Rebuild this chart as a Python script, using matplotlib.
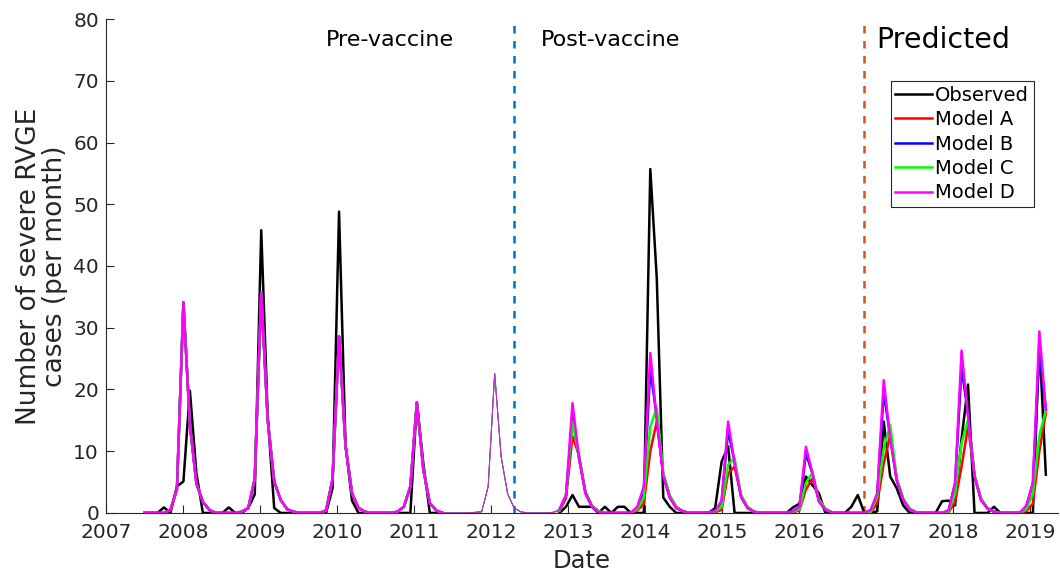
# 轮状病毒重症病例：观测值与模型预测
import numpy as np
import matplotlib as mpl
mpl.use('Agg')
import matplotlib.pyplot as plt

mpl.rcParams['axes.unicode_minus'] = False

nan = np.nan

# 观测值（每月病例数），2011年中至2012年底缺失
observed = [0, 0, 0, 0.9, 0, 4.3, 5.1, 19.8, 6.5, 0, 0, 0,
            0, 0.9, 0, 0, 0.8, 3.0, 45.8, 15.7, 0.8, 0, 0, 0,
            0, 0, 0, 0, 0, 4, 48.8, 11, 2, 0, 0, 0,
            0, 0, 0, 0, 0, 0, 17.9, 8, 0, 0, 0, nan,
            nan, nan, nan, nan, nan, nan, nan, nan, nan, nan, nan, nan,
            nan, nan, nan, nan, 0, 1, 2.9, 1, 1, 1, 0, 1,
            0, 1, 1, 0, 0, 0, 55.7, 38, 2.5, 1, 0, 0,
            0, 0, 0, 0, 0.8, 8.3, 10.8, 0, 0, 0, 0, 0,
            0, 0, 0, 0, 0.9, 1.5, 5.9, 4.5, 3.2, 0, 0, 0,
            0, 1.0, 2.9, 0, 0, 0.3, 14.8, 5.9, 4.0, 1.2, 0, 0,
            0, 0, 0, 1.9, 2.0, 1.2, 12, 20.8, 0, 0, 0, 1.0,
            0, 0, 0, 0, 0, 0, 27.9, 6.2]

# 疫苗前阶段四个模型基本一致
model_pre = [0, 0, 0, 0, 0.5, 3.8, 34.1, 14.3, 4.8, 1.8, 0.5, 0,
             0, 0, 0, 0.2, 0.8, 5.5, 35.7, 15.1, 5.1, 2.1, 0.6, 0.2,
             0, 0, 0, 0, 0.4, 5.5, 28.6, 10.9, 3.2, 0.8, 0.2, 0,
             0, 0, 0, 0.2, 1.0, 4.3, 17.9, 7.0, 1.6, 0.4, 0, 0,
             0, 0, 0, 0.1, 0.2, 4.3, 22.6, 9.1, 3.1, 0.8, 0.2, 0,
             0, 0, 0, 0.1]

# 疫苗后阶段（2012年11月起）
post_a = [0.3, 2.4, 12.4, 9.4, 3.4, 1.2, 0.3, 0, 0, 0, 0, 0,
          0.4, 1.5, 10.0, 14.8, 6.3, 2.8, 1.0, 0.3, 0, 0, 0, 0.1,
          0.1, 0.5, 6.4, 7.5, 2.8, 1.0, 0.2, 0, 0, 0, 0, 0,
          0.1, 0.4, 3.8, 5.6, 2.2, 0.7, 0.1, 0, 0, 0, 0, 0,
          0.1, 1.6, 8.0, 12.6, 5.5, 2.3, 0.7, 0.1, 0, 0, 0, 0,
          0.1, 1.8, 7.5, 14.0, 6.0, 2.3, 0.8, 0.2, 0, 0, 0, 0,
          0.3, 1.5, 10.0, 16.2]
post_b = [0.5, 2.8, 15.6, 8.9, 3.2, 1.0, 0.2, 0, 0, 0, 0, 0,
          0.9, 3.6, 23.3, 15.5, 6.0, 2.5, 0.8, 0.3, 0, 0, 0, 0.1,
          0.3, 1.8, 13.4, 8.2, 2.6, 0.8, 0.2, 0, 0, 0, 0, 0,
          0.3, 0.9, 9.7, 6.4, 1.9, 0.5, 0.1, 0, 0, 0, 0, 0,
          0.4, 3.0, 19.6, 12.3, 5.3, 2.1, 0.5, 0.1, 0, 0, 0, 0,
          0.4, 4.8, 23.6, 16.0, 5.9, 2.1, 0.7, 0.2, 0, 0, 0, 0,
          1.1, 4.8, 26.4, 16.8]
post_c = [0.4, 2.9, 14.8, 9.1, 3.3, 1.1, 0.3, 0, 0, 0, 0, 0,
          0.6, 2.5, 14.0, 17.0, 6.5, 2.8, 1.0, 0.3, 0, 0, 0, 0.1,
          0.2, 1.0, 7.8, 8.9, 2.9, 1.0, 0.2, 0, 0, 0, 0, 0,
          0.2, 0.6, 4.9, 6.5, 2.2, 0.7, 0.1, 0, 0, 0, 0, 0,
          0.2, 2.6, 10.5, 14.3, 5.6, 2.3, 0.7, 0.1, 0, 0, 0, 0,
          0.2, 3.1, 11.3, 15.1, 6.2, 2.3, 0.8, 0.2, 0, 0, 0, 0,
          0.6, 3.1, 12.5, 16.7]
post_d = [0.6, 2.9, 17.8, 8.9, 3.2, 1.0, 0.2, 0, 0, 0, 0, 0,
          1.0, 4.3, 25.9, 15.0, 6.0, 2.5, 0.8, 0.3, 0, 0, 0, 0.1,
          0.3, 2.0, 14.8, 8.0, 2.6, 0.8, 0.2, 0, 0, 0, 0, 0,
          0.3, 1.0, 10.7, 6.5, 1.9, 0.5, 0.1, 0, 0, 0, 0, 0,
          0.5, 3.2, 21.5, 12.0, 5.3, 2.1, 0.5, 0.1, 0, 0, 0, 0,
          0.4, 4.8, 26.3, 15.6, 5.9, 2.1, 0.7, 0.2, 0, 0, 0, 0,
          1.2, 4.8, 29.4, 16.7]

models = {'Model A': (model_pre + post_a, '#ff0000'),
          'Model B': (model_pre + post_b, '#0000ff'),
          'Model C': (model_pre + post_c, '#00ff00'),
          'Model D': (model_pre + post_d, '#ff00ff')}

# 时间轴：从2007年7月起每月一个点
t0 = 2007.5
step = 0.0842
n = len(observed)
t = t0 + np.arange(n) * step
obs = np.array(observed, dtype=float)
gap = np.isnan(obs)

vacc_idx = 57      # 疫苗引入
pred_idx = 111     # 预测开始

fig = plt.figure(figsize=(10.6, 5.77), dpi=100)
ax = fig.add_axes([0.1, 0.111, 0.898, 0.856])

ax.plot(t, obs, color='black', lw=1.8, label='Observed', zorder=3)
for name, (vals, col) in models.items():
    v = np.array(vals, dtype=float)
    ax.plot(t, v, color=col, lw=0.7, alpha=0.8, zorder=2)   # 缺失期细线
    thick = v.copy()
    thick[gap] = nan
    ax.plot(t, thick, color=col, lw=1.8, label=name, zorder=4)

ax.axvline(t[vacc_idx], color='#0072BD', ls=(0, (3, 3)), lw=1.8, zorder=1)
ax.axvline(t[pred_idx], color='#D95319', ls=(0, (3, 3)), lw=1.8, zorder=1)

ax.text(2010.69, 76.6, 'Pre-vaccine', ha='center', va='center', fontsize=16, color='black')
ax.text(2013.55, 76.6, 'Post-vaccine', ha='center', va='center', fontsize=16, color='black')
ax.text(2017.87, 76.6, 'Predicted', ha='center', va='center', fontsize=20.5, color='black')

ax.set_xlim(2007, 2019.36)
ax.set_ylim(0, 80)
ax.set_xticks(range(2007, 2020))
ax.set_yticks(range(0, 81, 10))
ax.tick_params(direction='in', length=6, labelsize=14.5, colors='#262626', width=0.8)
ax.tick_params(axis='y', pad=5)
ax.tick_params(axis='x', pad=7.5)
for s in ['top', 'right']:
    ax.spines[s].set_visible(False)
for s in ['left', 'bottom']:
    ax.spines[s].set_color('#262626')
    ax.spines[s].set_linewidth(0.8)

ax.set_xlabel('Date', fontsize=17.5, color='#262626', labelpad=5)
ax.set_ylabel('Number of severe RVGE\ncases (per month)', fontsize=19, color='#262626',
              labelpad=4, linespacing=1.0)

leg = ax.legend(loc='upper right', bbox_to_anchor=(0.975, 0.875), fontsize=14,
                fancybox=False, framealpha=1, edgecolor='#262626',
                labelspacing=0.28, handlelength=1.9, handletextpad=0.15, borderpad=0.25,
                borderaxespad=0)
leg.get_frame().set_linewidth(0.8)

fig.savefig('out.png', dpi=100)
